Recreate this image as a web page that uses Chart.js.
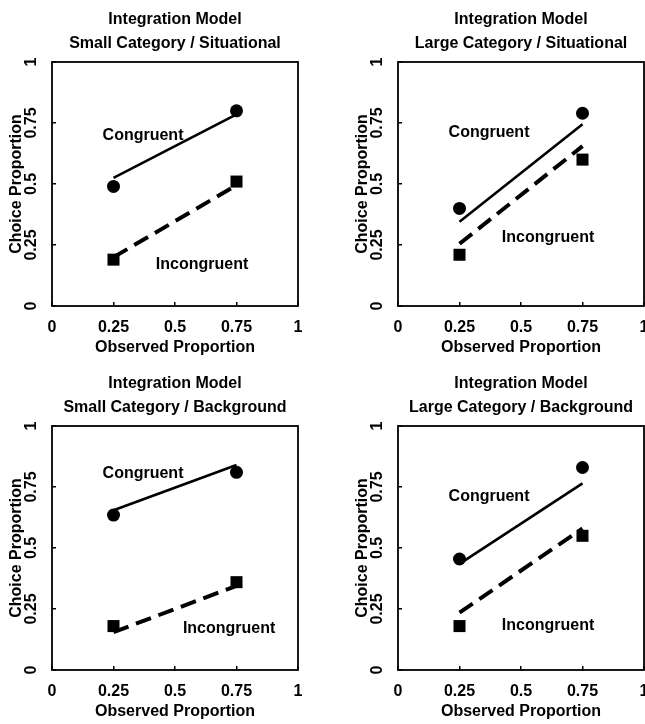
<!DOCTYPE html>
<html>
<head>
<title>Integration Model</title>
<style>
  html, body { margin: 0; padding: 0; overflow: hidden; background: #fff; }
  body { width: 645px; height: 724px; position: relative; }
  canvas { position: absolute; }
</style>
</head>
<body>
<canvas id="c0" width="320" height="362" style="left:0px;top:0px"></canvas>
<canvas id="c1" width="320" height="362" style="left:346px;top:0px"></canvas>
<canvas id="c2" width="320" height="362" style="left:0px;top:364px"></canvas>
<canvas id="c3" width="320" height="362" style="left:346px;top:364px"></canvas>
<script src="https://cdn.jsdelivr.net/npm/chart.js@4.4.1/dist/chart.umd.min.js"></script>
<script>
// observed proportions on the x axis
const observedX = [0.25, 0.75];
const tickValues = [0, 0.25, 0.5, 0.75, 1];
const tickLabels = ['0', '0.25', '0.5', '0.75', '1'];

const panelTitles = [
  ['Integration Model', 'Small Category / Situational'],
  ['Integration Model', 'Large Category / Situational'],
  ['Integration Model', 'Small Category / Background'],
  ['Integration Model', 'Large Category / Background']
];

// data points (observed choice proportions)
const congruentObs   = [[0.49, 0.80], [0.40, 0.79], [0.635, 0.81], [0.455, 0.83]];
const incongruentObs = [[0.19, 0.51], [0.21, 0.60], [0.18, 0.36], [0.18, 0.55]];
// model predictions (lines)
const congruentFit   = [[0.525, 0.785], [0.345, 0.745], [0.655, 0.84], [0.435, 0.765]];
const incongruentFit = [[0.20, 0.495], [0.255, 0.655], [0.155, 0.345], [0.235, 0.58]];

// where the series names sit, in data units
const congruentLabelPos   = [[0.37, 0.70], [0.37, 0.71], [0.37, 0.805], [0.37, 0.71]];
const incongruentLabelPos = [[0.61, 0.17], [0.61, 0.28], [0.72, 0.17], [0.61, 0.18]];

const FONT = '"Liberation Sans", Arial, Helvetica, sans-serif';
Chart.defaults.font.family = FONT;
Chart.defaults.font.size = 16;
Chart.defaults.font.weight = 'bold';
Chart.defaults.color = '#000';

function tickLabel(v) {
  const i = tickValues.indexOf(v);
  return i < 0 ? '' : tickLabels[i];
}

const panelText = {
  id: 'panelText',
  afterDatasetsDraw(chart, args, opts) {
    const { ctx, chartArea: a, scales: { x, y } } = chart;
    ctx.save();
    ctx.strokeStyle = '#000';
    ctx.lineWidth = 1.8;
    ctx.strokeRect(a.left, a.top, a.right - a.left, a.bottom - a.top);
    ctx.font = 'bold 16px ' + FONT;
    ctx.fillStyle = '#000';
    ctx.textAlign = 'center';
    ctx.textBaseline = 'middle';
    opts.labels.forEach(l => {
      ctx.fillText(l.text, x.getPixelForValue(l.pos[0]), y.getPixelForValue(l.pos[1]));
    });
    ctx.restore();
  }
};

function pts(ys) {
  return observedX.map((x, i) => ({ x: x, y: ys[i] }));
}

// note: chart.js counts tick padding twice when sizing an axis,
// the title paddings below make up for it
function axis(pos, titleText) {
  const vertical = pos === 'left';
  return {
    type: 'linear',
    position: pos,
    min: 0,
    max: 1,
    afterBuildTicks: s => { s.ticks = tickValues.map(v => ({ value: v })); },
    ticks: vertical
      ? { minRotation: 90, maxRotation: 90, crossAlign: 'center', padding: 8.5, autoSkip: false, callback: tickLabel }
      : { maxRotation: 0, padding: 16, autoSkip: false, callback: tickLabel },
    grid: { drawOnChartArea: false, tickLength: -4, color: '#000', lineWidth: 1.5 },
    border: { display: false },
    title: {
      display: true,
      text: titleText,
      color: '#000',
      padding: vertical ? { top: 7, bottom: -6.4 } : { top: -15.4, bottom: 5 }
    }
  };
}

for (let p = 0; p < 4; p++) {
  new Chart(document.getElementById('c' + p), {
    type: 'scatter',
    data: {
      datasets: [
        { label: 'Congruent', data: pts(congruentObs[p]), pointStyle: 'circle', pointRadius: 6.5,
          backgroundColor: '#000', borderWidth: 0 },
        { label: 'Incongruent', data: pts(incongruentObs[p]), pointStyle: 'rect', pointRadius: 8.5,
          backgroundColor: '#000', borderWidth: 0 },
        { label: 'Congruent model', data: pts(congruentFit[p]), showLine: true, pointRadius: 0,
          borderColor: '#000', borderWidth: 2.6 },
        { label: 'Incongruent model', data: pts(incongruentFit[p]), showLine: true, pointRadius: 0,
          borderColor: '#000', borderWidth: 4, borderDash: [16, 8] }
      ]
    },
    options: {
      responsive: false,
      animation: false,
      layout: { padding: { left: 0, right: 22, top: 0, bottom: 0 } },
      plugins: {
        legend: { display: false },
        tooltip: { enabled: false },
        title: {
          display: true,
          text: panelTitles[p],
          fullSize: false,
          color: '#000',
          font: { size: 16, weight: 'bold', lineHeight: '24px' },
          padding: { top: 8, bottom: 6 }
        },
        panelText: {
          labels: [
            { text: 'Congruent', pos: congruentLabelPos[p] },
            { text: 'Incongruent', pos: incongruentLabelPos[p] }
          ]
        }
      },
      scales: {
        x: axis('bottom', 'Observed Proportion'),
        y: axis('left', 'Choice Proportion')
      }
    },
    plugins: [panelText]
  });
}
</script>
</body>
</html>
